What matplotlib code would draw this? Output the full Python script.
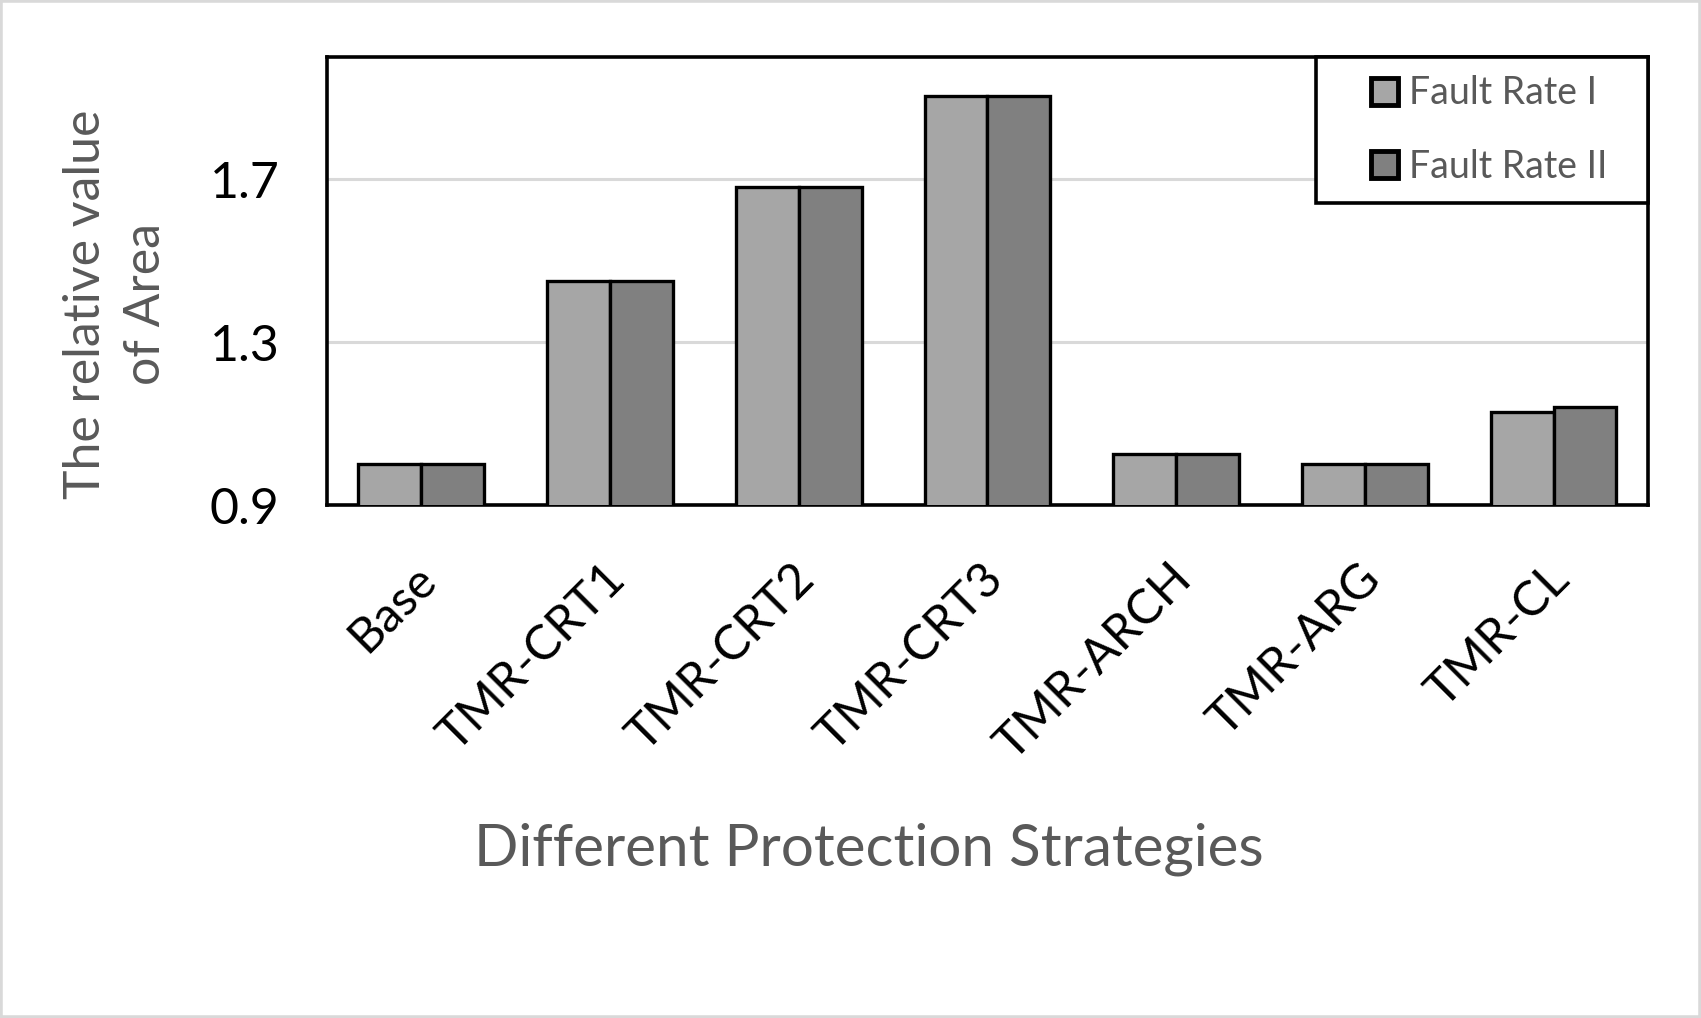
import matplotlib
matplotlib.use("Agg")
import matplotlib.pyplot as plt
import matplotlib.transforms as mtransforms
import numpy as np
from matplotlib.patches import Rectangle

categories = ["Base", "TMR-CRT1", "TMR-CRT2", "TMR-CRT3", "TMR-ARCH", "TMR-ARG", "TMR-CL"]
fault_rate_1 = [1.0, 1.45, 1.68, 1.905, 1.025, 1.0, 1.128]
fault_rate_2 = [1.0, 1.45, 1.68, 1.905, 1.025, 1.0, 1.14]
series_labels = ["Fault Rate I", "Fault Rate II"]
y_ticks = [0.9, 1.3, 1.7]

plt.rcParams["font.family"] = ["Lato", "DejaVu Sans"]

fig = plt.figure(figsize=(17.01, 10.18), dpi=100)
ax = fig.add_axes([0.1922, 0.5039, 0.7766, 0.4401])

x = np.arange(len(categories))
w = 1 / 3
ax.bar(x - w / 2, fault_rate_1, w, bottom=0, color="#a6a6a6", edgecolor="black",
       linewidth=2.4, label=series_labels[0], zorder=3)
ax.bar(x + w / 2, fault_rate_2, w, bottom=0, color="#808080", edgecolor="black",
       linewidth=2.4, label=series_labels[1], zorder=3)

ax.set_xlim(-0.5, len(categories) - 0.5)
ax.set_ylim(0.9, 2.0)
ax.set_yticks(y_ticks)
ax.set_yticklabels([f"{v:.1f}" for v in y_ticks], fontsize=36)
ax.tick_params(axis="y", length=0, pad=34)
ax.yaxis.grid(True, color="#d9d9d9", linewidth=2.2, zorder=0)
ax.set_axisbelow(True)

ax.set_xticks(x)
ax.set_xticklabels(categories, fontsize=35, rotation=45, ha="right",
                   va="center", rotation_mode="anchor")
ax.tick_params(axis="x", length=0, pad=48)
# nudge the rotated labels a little to the right, like Excel places them
shift = mtransforms.ScaledTranslation(8 / 100, 0, fig.dpi_scale_trans)
for lbl in ax.get_xticklabels():
    lbl.set_transform(lbl.get_transform() + shift)

for s in ax.spines.values():
    s.set_linewidth(2.6)
    s.set_color("black")

# legend box (Excel style: wide padding), drawn separately from the entries
ax.add_patch(Rectangle((0.749, 0.674), 0.251, 0.326, transform=ax.transAxes,
                       facecolor="white", edgecolor="black", linewidth=2.6,
                       zorder=5, clip_on=False))
leg = ax.legend(loc="center", bbox_to_anchor=(0.880, 0.837), borderaxespad=0,
                fontsize=27, frameon=False, handlelength=0.72,
                handleheight=0.72, handletextpad=0.3, labelspacing=1.0,
                borderpad=0.0)
leg.set_zorder(6)
for t in leg.get_texts():
    t.set_color("#595959")
for h in leg.legend_handles:
    h.set_linewidth(3.5)

fig.text(0.511, 1 - 849 / 1018, "Different Protection Strategies", fontsize=42,
         color="#595959", ha="center", va="center")
fig.text(116 / 1701, 1 - 304 / 1018, "The relative value\nof Area", fontsize=36,
         color="#595959", ha="center", va="center", rotation=90, linespacing=1.4)

fig.patches.append(Rectangle((0, 0), 1, 1, transform=fig.transFigure, fill=False,
                             edgecolor="#d9d9d9", linewidth=4))

fig.savefig("out.png", dpi=100)
